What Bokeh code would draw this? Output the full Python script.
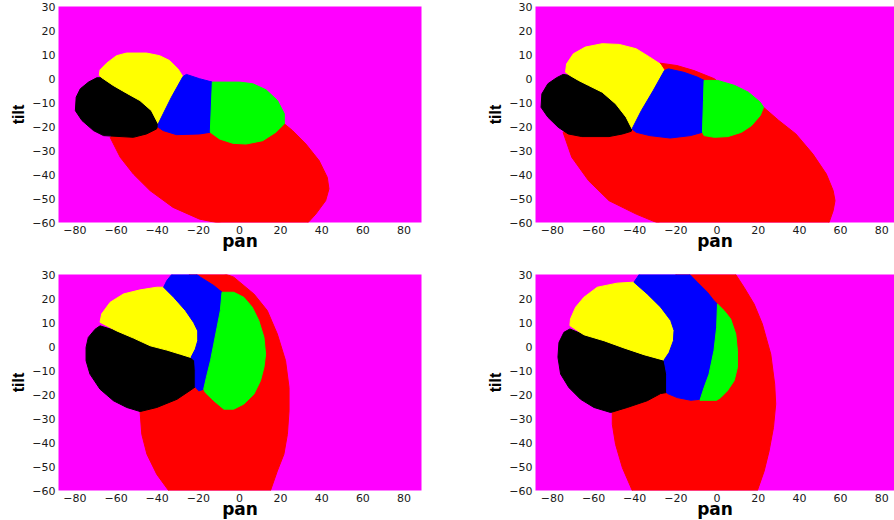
from bokeh.plotting import figure
from bokeh.layouts import column, row
from bokeh.models import FixedTicker, Range1d
from bokeh.embed import file_html
from bokeh.resources import INLINE

# ---------------- data ----------------
x_ticks = [-80, -60, -40, -20, 0, 20, 40, 60, 80]
x_tick_labels = ["\u221280", "\u221260", "\u221240", "\u221220", "0", "20", "40", "60", "80"]
y_ticks = [-60, -50, -40, -30, -20, -10, 0, 10, 20, 30]
y_tick_labels = ["\u221260", "\u221250", "\u221240", "\u221230", "\u221220", "\u221210", "0", "10", "20", "30"]

# panel a (top left)
a_red_pan = [-62.9, -58, -51.6, -43.5, -32.3, -19.4, -11.3, -5, 32.3, 37.1, 41.9, 43.5, 42.7, 38.7, 32.3, 25.8, 21.8, 10, -20, -50]
a_red_tilt = [-24.5, -32.8, -39.8, -46.7, -53.7, -58.6, -60, -61, -61, -56.5, -50.9, -46, -41.2, -34.2, -27.3, -21.7, -18.9, -15, -15, -18]
a_black_pan = [-66.9, -69.4, -73.4, -77.4, -79.4, -79.8, -76.6, -71, -66.1, -51.6, -45.2, -40.3, -39.5, -42.8, -48.4, -54.9, -61.4]
a_black_tilt = [0.3, 0.3, -1.5, -4.3, -7.8, -13.4, -17.5, -21.7, -23.8, -24.5, -23.1, -21, -18.9, -13.4, -9.2, -6.1, -2.9]
a_yellow_pan = [-68.2, -67.8, -64.6, -59.8, -54.9, -45.2, -38.8, -34, -29.9, -27.5, -33.1, -37.1, -39.5, -42.8, -48.4, -54.9, -61.4, -66.9]
a_yellow_tilt = [1.3, 3.6, 6.4, 9.5, 10.6, 10.6, 9.5, 7.5, 4, 0.8, -7.8, -14.7, -18.9, -13.4, -9.2, -6.1, -2.9, 0.3]
a_blue_pan = [-27.5, -25.8, -19.4, -13.2, -14.2, -19.4, -30.6, -37.1, -39.5, -39.5, -37.1, -33.1]
a_blue_tilt = [0.8, 1.7, -0.1, -1.5, -22.4, -23.1, -23.4, -21.7, -20.3, -18.9, -14.7, -7.8]
a_green_pan = [-13.2, -6.5, 0, 6.5, 12.9, 18.5, 21.8, 21.8, 17.7, 11.3, 3.2, -3.2, -9.7, -14.2]
a_green_tilt = [-1.5, -1.5, -1.5, -2.2, -4.7, -9.2, -14.7, -18.9, -22.4, -25.9, -27.3, -27, -25.2, -22.4]

# panel b (top right)
b_red_pan = [-74.8, -70.6, -62.4, -52.5, -39.3, -29.4, -25, 54, 56.4, 57.3, 56.4, 53.1, 46.5, 38.3, 30, 22.6, 10, -1.3, -11.2, -19.5, -27.7, -40, -60]
b_red_tilt = [-22.4, -32.8, -42.6, -50.9, -56.5, -60, -61, -61, -55.1, -50.9, -46.7, -39.8, -31.4, -23.1, -17.5, -12, -8, -0.1, 3.3, 5.4, 6.4, 0, -15]
b_black_pan = [-74.8, -78, -82.2, -85.1, -85.5, -82.2, -77.2, -72.3, -65.7, -52.5, -45.9, -41.7, -41.3, -44.2, -49.2, -55.8, -62.4, -67.3, -71.5]
b_black_tilt = [1.7, 0.3, -2.2, -6.4, -12, -16.1, -20.3, -23.1, -24.2, -24.2, -23.1, -22, -21, -16.1, -10.6, -5.7, -2.9, -0.8, 1.3]
b_yellow_pan = [-73.6, -73.1, -69.8, -64, -55.8, -47.5, -39.3, -32.7, -27.7, -25.6, -31, -36.8, -41.3, -44.2, -49.2, -55.8, -62.4, -67.3, -71.5]
b_yellow_tilt = [2.6, 6.1, 10.3, 13.1, 14.5, 14.2, 12.4, 8.9, 6.1, 3.3, -5, -13.4, -21, -16.1, -10.6, -5.7, -2.9, -0.8, 1.3]
b_blue_pan = [-25.6, -23.6, -16.2, -9.6, -6.3, -6.6, -7.1, -12.9, -22.8, -32.7, -39.3, -41.3, -36.8, -31]
b_blue_tilt = [3.3, 4, 2.6, 0.6, -0.8, -9.2, -22.4, -23.8, -24.8, -23.8, -22.4, -21, -13.4, -5]
b_green_pan = [-6.3, 0.3, 8.6, 15.2, 21, 22.6, 21, 16.8, 11.9, 5.3, -1.3, -6.3, -7.1, -6.6]
b_green_tilt = [-0.8, -0.8, -2.9, -5.7, -9.9, -12, -15.4, -19.6, -22.4, -24.2, -24.5, -23.8, -22.4, -9.2]

# panel c (bottom left)
c_red_pan = [-25, -9.3, -2.8, 7, 13.5, 18.4, 22.4, 24.1, 24.1, 23.3, 21.6, 18.4, 15.1, 14.5, -35, -34.5, -40.2, -45, -47.5, -48.3, -50, -30, -15]
c_red_tilt = [31, 31, 28.9, 21.9, 15, 5.2, -5.9, -17.1, -26.8, -36.6, -44.9, -51.9, -60, -61, -61, -60, -53.3, -44.9, -36.6, -27.5, -15, 0, 15]
c_black_pan = [-67.8, -70.2, -73.5, -74.6, -74.6, -72.7, -67.8, -61.3, -54.8, -48.3, -40.2, -30.4, -23.1, -21.5, -21.5, -21.8, -23.6, -28.8, -35.3, -43.4, -51.5, -59.7]
c_black_tilt = [8.6, 7.2, 3.8, -0.4, -5.9, -11.5, -17.8, -22.6, -25.4, -27.1, -25.4, -22, -17.8, -16.8, -10.1, -5.9, -4.6, -3.2, -1.5, 0.3, 3.5, 6.5]
c_yellow_pan = [-67.8, -67, -62.9, -56.4, -48.3, -40.2, -36.9, -32, -26.3, -22.3, -20.3, -20.3, -21.5, -23.6, -28.8, -35.3, -43.4, -51.5, -59.7]
c_yellow_tilt = [10.1, 13.6, 18.4, 21.9, 23.6, 24.7, 24.7, 20.5, 15, 10, 6.5, 2.4, -1.1, -4.6, -3.2, -1.5, 0.3, 3.5, 6.5]
c_blue_pan = [-36.9, -35.3, -32, -22.3, -19, -12.5, -8.5, -9.3, -10.9, -12.5, -14.1, -16.1, -17.4, -19.8, -21.5, -21.5, -21.8, -23.6, -21.5, -20.3, -20.3, -22.3, -26.3, -32]
c_blue_tilt = [24.7, 27.5, 31, 31, 28.9, 25.4, 22.6, 15, 8, 1, -5.9, -12.9, -17.8, -18.5, -16.8, -10.1, -5.9, -4.6, -1.1, 2.4, 6.5, 10, 15, 20.5]
c_green_pan = [-8.5, -2.8, 2.1, 6.2, 9.4, 11.9, 12.7, 11.9, 10.2, 7, 2.1, -2.8, -7.6, -12.5, -16.6, -17.4, -16.1, -14.1, -12.5, -10.9, -9.3]
c_green_tilt = [22.6, 22.6, 20.5, 16.4, 10.8, 3.8, -3.2, -8.7, -14.3, -19.9, -24, -26.1, -26.1, -22.6, -19.2, -17.8, -12.9, -5.9, 1, 8, 15]

# panel d (bottom right)
d_red_pan = [-20, 8.3, 13.1, 18, 22, 26.1, 28, 28.5, 27.4, 25.3, 22.9, 19.6, 19, -41.5, -41.2, -46, -49.3, -50.9, -50.9, -50, -30, -20]
d_red_tilt = [31, 31, 24.7, 17.7, 9.4, -3.2, -15.7, -24, -33.8, -43.5, -51.9, -60, -61, -61, -60, -50.5, -40.8, -32.4, -27.5, -15, 0, 15]
d_black_pan = [-71.5, -74.4, -76.8, -77.3, -76, -72, -66.3, -59.8, -51.7, -43.6, -33.9, -27.4, -24.5, -24.5, -25.4, -25.8, -35.5, -45.2, -54.9, -64.7]
d_black_tilt = [7.3, 5.9, 1.7, -4.5, -11.5, -17.1, -22, -25.4, -27.5, -25.4, -22.6, -19.6, -19.2, -11.5, -7.3, -5.7, -3.4, -0.6, 2.4, 4.9]
d_yellow_pan = [-71.5, -71.2, -68.7, -64.7, -58.2, -48.5, -40.4, -33.9, -27.4, -22.5, -20.9, -21.2, -23.3, -25.8, -35.5, -45.2, -54.9, -64.7]
d_yellow_tilt = [8.7, 11.5, 16.4, 20.5, 24.7, 26.4, 26.8, 21.9, 16.4, 10.8, 6.7, 2.4, -2.5, -5.7, -3.4, -0.6, 2.4, 4.9]
d_blue_pan = [-40.4, -38.7, -37.1, -14.4, -9.6, -4.7, -1.5, 0.2, -0.2, -1.5, -3.9, -6.3, -8.3, -12.8, -19.3, -24.1, -24.5, -24.5, -25.4, -25.8, -23.3, -21.2, -20.9, -22.5, -27.4, -33.9]
d_blue_tilt = [26.8, 28.9, 31, 31, 26.8, 22.6, 19.1, 17.7, 8, -1.7, -11.5, -17.1, -22, -22.4, -21.3, -19.6, -19.2, -11.5, -7.3, -5.7, -2.5, 2.4, 6.7, 10.8, 16.4, 21.9]
d_green_pan = [0.2, 3.4, 6.6, 9.1, 9.9, 9.9, 8.3, 5, 1.8, -0.2, -8.3, -6.3, -3.9, -1.5, -0.2]
d_green_tilt = [17.7, 15, 11.5, 5.2, -1.8, -8.7, -14.3, -18.5, -21.3, -22.4, -22.4, -17.1, -11.5, -1.7, 8]

region_colors = {"red": "#FF0000", "black": "#000000", "yellow": "#FFFF00",
                 "blue": "#0000FF", "green": "#00FF00"}
background_color = "#FF00FF"


def make_panel(x_lim, regions, fw, fh, left, right, top, bottom):
    p = figure(frame_width=fw, frame_height=fh,
               x_range=Range1d(*x_lim), y_range=Range1d(-60, 30),
               min_border_left=left, min_border_right=right,
               min_border_top=top, min_border_bottom=bottom,
               output_backend="svg", toolbar_location=None,
               background_fill_color=background_color,
               border_fill_color="white", outline_line_color=None)
    for name, xs, ys in regions:
        c = region_colors[name]
        p.patch(xs, ys, fill_color=c, line_color=c, line_width=1)
    p.xgrid.visible = False
    p.ygrid.visible = False
    for ax in (p.xaxis[0], p.yaxis[0]):
        ax.axis_line_color = None
        ax.major_tick_line_color = None
        ax.minor_tick_line_color = None
        ax.major_tick_out = 0
        ax.major_tick_in = 0
        ax.minor_tick_out = 0
        ax.minor_tick_in = 0
        ax.major_label_standoff = 3
        ax.major_label_text_font = "DejaVu Sans"
        ax.major_label_text_font_size = "11px"
        ax.major_label_text_color = "#1a1a1a"
        ax.axis_label_text_color = "black"
        ax.axis_label_text_font_style = "bold"
    p.xaxis.ticker = FixedTicker(ticks=x_ticks)
    p.xaxis.major_label_overrides = {float(t): s for t, s in zip(x_ticks, x_tick_labels)}
    p.yaxis.ticker = FixedTicker(ticks=y_ticks)
    p.yaxis.major_label_overrides = {float(t): s for t, s in zip(y_ticks, y_tick_labels)}
    p.xaxis.axis_label = "pan"
    p.xaxis.axis_label_text_font = "DejaVu Sans"
    p.xaxis.axis_label_text_font_size = "17px"
    p.xaxis.axis_label_standoff = -6
    p.yaxis.axis_label = "tilt"
    p.yaxis.axis_label_text_font = "Liberation Sans"
    p.yaxis.axis_label_text_font_size = "16px"
    p.yaxis.axis_label_standoff = 2
    return p


pa = make_panel((-88, 88.5), [("red", a_red_pan, a_red_tilt), ("black", a_black_pan, a_black_tilt),
                              ("yellow", a_yellow_pan, a_yellow_tilt), ("blue", a_blue_pan, a_blue_tilt),
                              ("green", a_green_pan, a_green_tilt)],
                363, 216, 58, 59, 6, 34)
pb = make_panel((-88.2, 86.2), [("red", b_red_pan, b_red_tilt), ("black", b_black_pan, b_black_tilt),
                                ("yellow", b_yellow_pan, b_yellow_tilt), ("blue", b_blue_pan, b_blue_tilt),
                                ("green", b_green_pan, b_green_tilt)],
                359, 216, 55, 0, 6, 34)
pc = make_panel((-88, 88.5), [("red", c_red_pan, c_red_tilt), ("black", c_black_pan, c_black_tilt),
                              ("yellow", c_yellow_pan, c_yellow_tilt), ("blue", c_blue_pan, c_blue_tilt),
                              ("green", c_green_pan, c_green_tilt)],
                363, 216, 58, 59, 18, 30)
pd = make_panel((-88.2, 86.2), [("red", d_red_pan, d_red_tilt), ("black", d_black_pan, d_black_tilt),
                                ("yellow", d_yellow_pan, d_yellow_tilt), ("blue", d_blue_pan, d_blue_tilt),
                                ("green", d_green_pan, d_green_tilt)],
                359, 216, 55, 0, 18, 30)

layout = column(row(pa, pb), row(pc, pd))

open("out.html", "w").write(file_html(layout, INLINE))
